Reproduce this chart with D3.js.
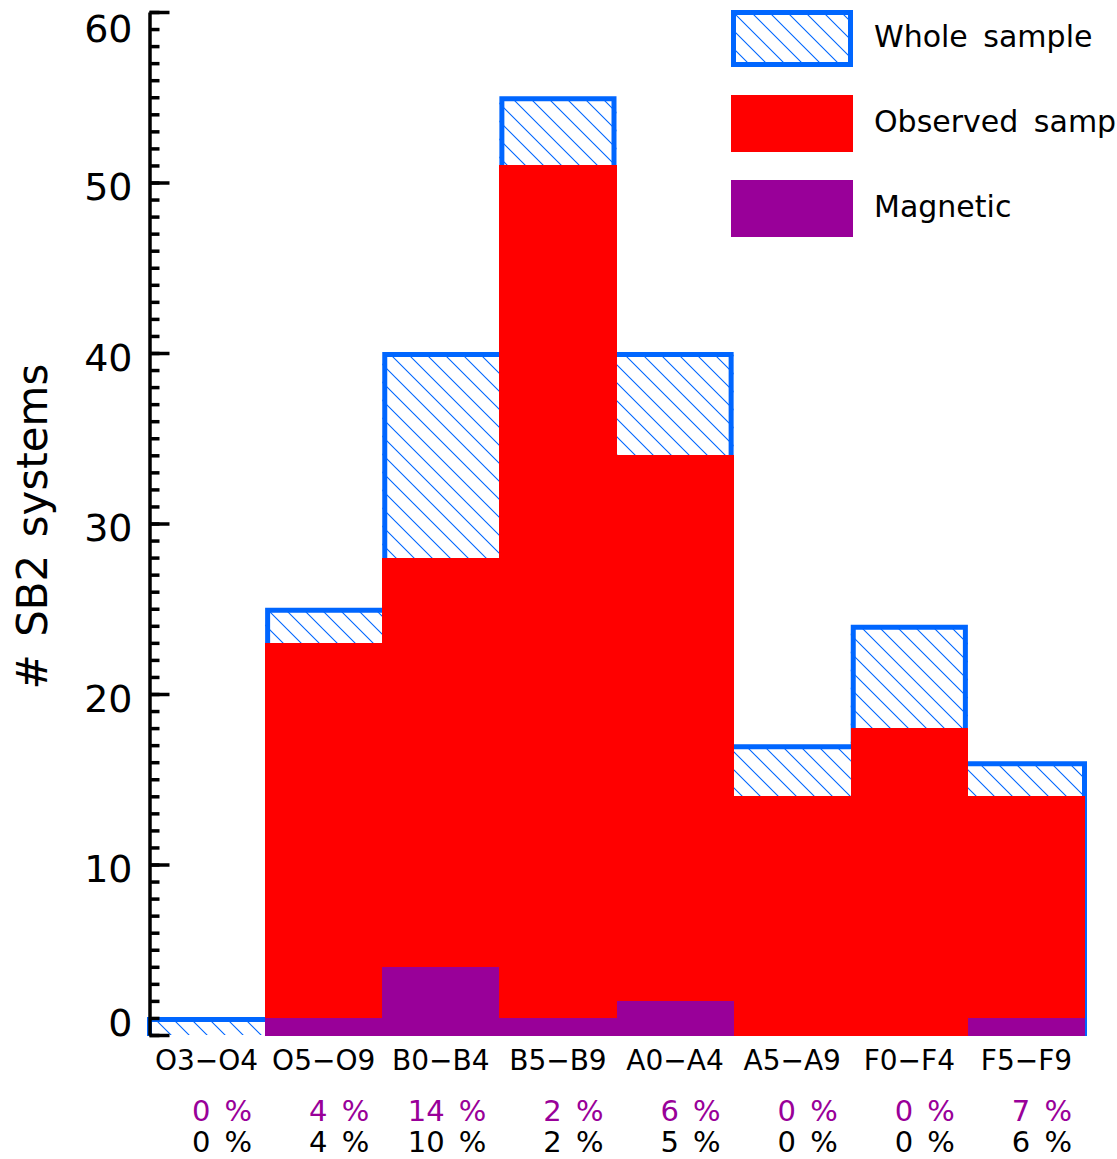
<!DOCTYPE html>
<html>
<head>
<meta charset="utf-8">
<script src="https://cdn.jsdelivr.net/npm/d3@7"></script>
<style>
  body { margin: 0; background: #fff; }
  svg { display: block; }
  text { font-family: "DejaVu Sans", sans-serif; }
</style>
</head>
<body>
<script>
// data
var categories = ["O3\u2212O4", "O5\u2212O9", "B0\u2212B4", "B5\u2212B9", "A0\u2212A4", "A5\u2212A9", "F0\u2212F4", "F5\u2212F9"];
var wholeSample = [1, 25, 40, 55, 40, 17, 24, 16];
var observedSample = [0, 23, 28, 51, 34, 14, 18, 14];
var magnetic = [0, 1, 4, 1, 2, 0, 0, 1];
var pctObserved = ["0 %", "4 %", "14 %", "2 %", "6 %", "0 %", "0 %", "7 %"];
var pctWhole = ["0 %", "4 %", "10 %", "2 %", "5 %", "0 %", "0 %", "6 %"];
var legendLabels = ["Whole sample", "Observed sample", "Magnetic"];
var yTicks = [0, 10, 20, 30, 40, 50, 60];

var width = 1117, height = 1159;
var blue = "#0066ff", red = "#ff0000", purple = "#990099";

var svg = d3.select("body").append("svg")
    .attr("width", width)
    .attr("height", height);

var x = d3.scaleBand().domain(categories).range([148, 1085]).padding(0);
var y = d3.scaleLinear().domain([0, 60]).range([1035, 12]);

// hatch pattern
var defs = svg.append("defs");
var pat = defs.append("pattern")
    .attr("id", "hatch")
    .attr("patternUnits", "userSpaceOnUse")
    .attr("width", 18).attr("height", 18);
pat.append("path")
    .attr("d", "M-2,-2 L20,20 M-20,-2 L2,20 M16,-2 L38,20")
    .attr("stroke", blue)
    .attr("stroke-width", 1.1);

// whole sample: hatched fill
svg.append("g").selectAll("rect")
    .data(wholeSample)
    .enter().append("rect")
    .attr("x", function(d, i) { return x(categories[i]); })
    .attr("y", function(d) { return y(d); })
    .attr("width", x.bandwidth())
    .attr("height", function(d) { return y(0) - y(d); })
    .style("fill", "url(#hatch)");

// whole sample: step outline, vertical edges sit inside the taller bin
var edges = categories.map(function(c) { return x(c); }).concat([x.range()[1]]);
var vx = edges.map(function(e, k) {
    var hl = k > 0 ? wholeSample[k - 1] : 0;
    var hr = k < categories.length ? wholeSample[k] : 0;
    if (k == 0) return e + 1.5;
    if (k == categories.length) return e - 0.5;
    return hr > hl ? e + 2.5 : e - 2.5;
});
var pts = [[vx[0], y(0) + 1]];
for (var i = 0; i < wholeSample.length; i++) {
    var yt = y(wholeSample[i]) + 1.5;
    pts.push([vx[i], yt]);
    pts.push([vx[i + 1], yt]);
}
pts.push([vx[vx.length - 1], y(0) + 1]);

svg.append("path")
    .attr("d", d3.line()(pts))
    .attr("fill", "none")
    .attr("stroke", blue)
    .attr("stroke-width", 5);

// observed sample
svg.append("g").attr("shape-rendering", "crispEdges").selectAll("rect")
    .data(observedSample)
    .enter().append("rect")
    .attr("x", function(d, i) { return Math.round(x(categories[i])); })
    .attr("y", function(d) { return y(d); })
    .attr("width", function(d, i) { return Math.round(edges[i + 1]) - Math.round(edges[i]); })
    .attr("height", function(d) { return d > 0 ? y(0) - y(d) + 1 : 0; })
    .style("fill", red);

// magnetic
svg.append("g").attr("shape-rendering", "crispEdges").selectAll("rect")
    .data(magnetic)
    .enter().append("rect")
    .attr("x", function(d, i) { return Math.round(x(categories[i])); })
    .attr("y", function(d) { return y(d); })
    .attr("width", function(d, i) { return Math.round(edges[i + 1]) - Math.round(edges[i]); })
    .attr("height", function(d) { return d > 0 ? y(0) - y(d) + 1 : 0; })
    .style("fill", purple);

// y axis, ticks pointing inward
var minor = svg.append("g")
    .attr("transform", "translate(149.5,0)")
    .call(d3.axisLeft(y).tickValues(d3.range(0, 61)).tickSize(-10).tickSizeOuter(0).tickFormat(""));
minor.selectAll("line").attr("stroke", "#000").attr("stroke-width", 3.5);
minor.select(".domain").remove();

var yAxis = svg.append("g")
    .attr("transform", "translate(149.5,0)")
    .call(d3.axisLeft(y).tickValues(yTicks).tickSize(-20).tickSizeOuter(0).tickPadding(17));
yAxis.select(".domain").attr("stroke", "#000").attr("stroke-width", 3.5);
yAxis.selectAll("line").attr("stroke", "#000").attr("stroke-width", 3.5);
yAxis.selectAll("text")
    .style("font-family", "DejaVu Sans")
    .style("font-size", "38px")
    .attr("fill", "#000")
    .attr("dy", function(d) { return d == 0 ? "0em" : (d == 60 ? "0.78em" : "0.45em"); });

// y title
svg.append("text")
    .attr("transform", "translate(47," + ((y(0) + y(60)) / 2 + 3) + ") rotate(-90)")
    .attr("text-anchor", "middle")
    .style("font-size", "42px")
    .style("word-spacing", "4px")
    .text("# SB2 systems");

// category labels
svg.append("g").selectAll("text")
    .data(categories)
    .enter().append("text")
    .attr("x", function(d) { return x(d) + x.bandwidth() / 2; })
    .attr("y", 1070)
    .attr("text-anchor", "middle")
    .style("font-size", "28px")
    .text(function(d) { return d; });

// percentage rows
svg.append("g").selectAll("text")
    .data(pctObserved)
    .enter().append("text")
    .attr("x", function(d, i) { return x(categories[i]) + x.bandwidth() - 13; })
    .attr("y", 1121)
    .attr("text-anchor", "end")
    .attr("fill", purple)
    .style("font-size", "29px")
    .style("word-spacing", "5px")
    .text(function(d) { return d; });

svg.append("g").selectAll("text")
    .data(pctWhole)
    .enter().append("text")
    .attr("x", function(d, i) { return x(categories[i]) + x.bandwidth() - 13; })
    .attr("y", 1152)
    .attr("text-anchor", "end")
    .attr("fill", "#000")
    .style("font-size", "29px")
    .style("word-spacing", "5px")
    .text(function(d) { return d; });

// legend
var legend = svg.append("g").attr("transform", "translate(731,10)");
var fills = ["url(#hatch)", red, purple];
legendLabels.forEach(function(lab, i) {
    var g = legend.append("g").attr("transform", "translate(0," + (i * 85) + ")");
    if (i == 0) {
        g.append("rect").attr("x", 2.5).attr("y", 2.5).attr("width", 117).attr("height", 52)
            .attr("fill", fills[i]).attr("stroke", blue).attr("stroke-width", 5);
    } else {
        g.append("rect").attr("width", 122).attr("height", 57).attr("fill", fills[i]);
    }
    g.append("text")
        .attr("x", 143)
        .attr("y", 37)
        .style("font-size", "30px")
        .style("word-spacing", "6px")
        .text(lab);
});
</script>
</body>
</html>
